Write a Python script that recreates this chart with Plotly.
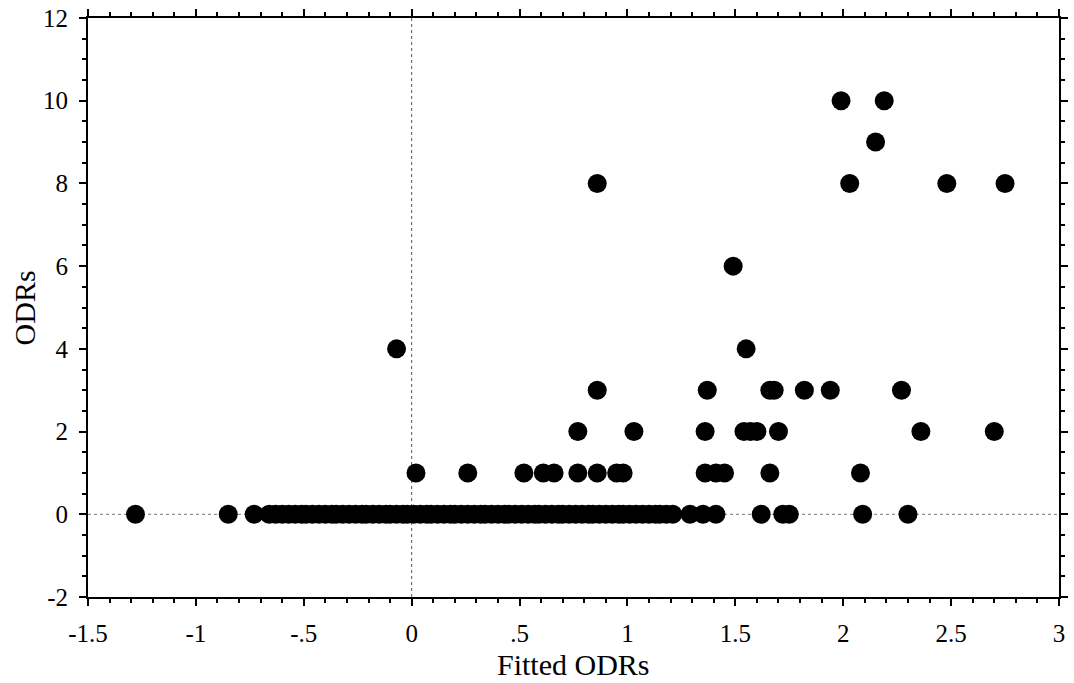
import plotly.graph_objects as go

fitted_odr0 = [-1.28, -0.85, -0.73,
               -0.66, -0.63, -0.60, -0.57, -0.54, -0.51, -0.49, -0.46, -0.43, -0.40,
               -0.37, -0.35, -0.32, -0.29, -0.26, -0.23, -0.21, -0.18, -0.15, -0.12,
               -0.10, -0.07, -0.04, -0.02, 0.01, 0.04, 0.07, 0.09, 0.12, 0.15, 0.18,
               0.20, 0.23, 0.26, 0.29, 0.32, 0.34, 0.37, 0.40, 0.43, 0.45, 0.48, 0.51,
               0.54, 0.57, 0.59, 0.62, 0.65, 0.68, 0.70, 0.73, 0.76, 0.79, 0.82, 0.84,
               0.87, 0.90, 0.93, 0.96, 0.98, 1.01, 1.04, 1.07, 1.10, 1.13, 1.15, 1.18,
               1.21, 1.29, 1.35, 1.41, 1.62, 1.72, 1.75, 2.09, 2.30]
fitted_odr1 = [0.02, 0.26, 0.52, 0.61, 0.66, 0.77, 0.86, 0.95, 0.98, 1.36, 1.41, 1.45, 1.66, 2.08]
fitted_odr2 = [0.77, 1.03, 1.36, 1.54, 1.57, 1.60, 1.70, 2.36, 2.70]
fitted_odr3 = [0.86, 1.37, 1.66, 1.68, 1.82, 1.94, 2.27]
fitted_odr4 = [-0.07, 1.55]
fitted_odr6 = [1.49]
fitted_odr8 = [0.86, 2.03, 2.48, 2.75]
fitted_odr9 = [2.15]
fitted_odr10 = [1.99, 2.19]

rows = [(0, fitted_odr0), (1, fitted_odr1), (2, fitted_odr2), (3, fitted_odr3),
        (4, fitted_odr4), (6, fitted_odr6), (8, fitted_odr8), (9, fitted_odr9),
        (10, fitted_odr10)]

x_tick_vals = [-1.5, -1, -0.5, 0, 0.5, 1, 1.5, 2, 2.5, 3]
x_tick_text = ["-1.5", "-1", "-.5", "0", ".5", "1", "1.5", "2", "2.5", "3"]
y_tick_vals = [-2, 0, 2, 4, 6, 8, 10, 12]
y_tick_text = ["-2", "0", "2", "4", "6", "8", "10", "12"]

xs, ys = [], []
for odr, fitted in rows:
    xs += fitted
    ys += [odr] * len(fitted)

fig = go.Figure()
fig.add_trace(go.Scatter(x=xs, y=ys, mode="markers",
                         marker=dict(size=19, color="black", line=dict(width=0)),
                         showlegend=False))

fig.add_shape(type="line", xref="x", yref="paper", x0=0, x1=0, y0=0, y1=1,
              line=dict(color="#555555", width=1, dash="dot"), layer="below")
fig.add_shape(type="line", xref="paper", yref="y", x0=0, x1=1, y0=0, y1=0,
              line=dict(color="#777777", width=1, dash="dot"), layer="below")

font_family = "Liberation Serif, Times New Roman, serif"
axis_common = dict(showline=True, linecolor="black", linewidth=2, mirror="allticks",
                   ticks="outside", ticklen=7, tickwidth=1.5, tickcolor="black",
                   showgrid=False, zeroline=False, automargin=False,
                   tickfont=dict(family=font_family, size=25, color="black"))

fig.update_xaxes(range=[-1.5, 3], tickvals=x_tick_vals, ticktext=x_tick_text,
                 minor=dict(dtick=0.1, ticks="outside", ticklen=4, tickcolor="black"),
                 ticklabelstandoff=6, **axis_common)
fig.update_yaxes(range=[-2, 12], tickvals=y_tick_vals, ticktext=y_tick_text,
                 minor=dict(dtick=0.5, ticks="outside", ticklen=4, tickcolor="black"),
                 ticklabelstandoff=6, **axis_common)

title_font = dict(family=font_family, size=30, color="black")
fig.add_annotation(text="Fitted ODRs", xref="paper", yref="paper", x=0.5, y=-0.117,
                   xanchor="center", yanchor="middle", showarrow=False, font=title_font)
fig.add_annotation(text="ODRs", xref="paper", yref="paper", x=-0.065, y=0.5,
                   xanchor="center", yanchor="middle", textangle=-90,
                   showarrow=False, font=title_font)

fig.update_layout(width=1074, height=683, plot_bgcolor="white", paper_bgcolor="white",
                  margin=dict(l=88, r=15, t=18, b=86))

fig.write_html("out.html", config={"displayModeBar": False},
               post_script="document.body.style.margin='0';")
